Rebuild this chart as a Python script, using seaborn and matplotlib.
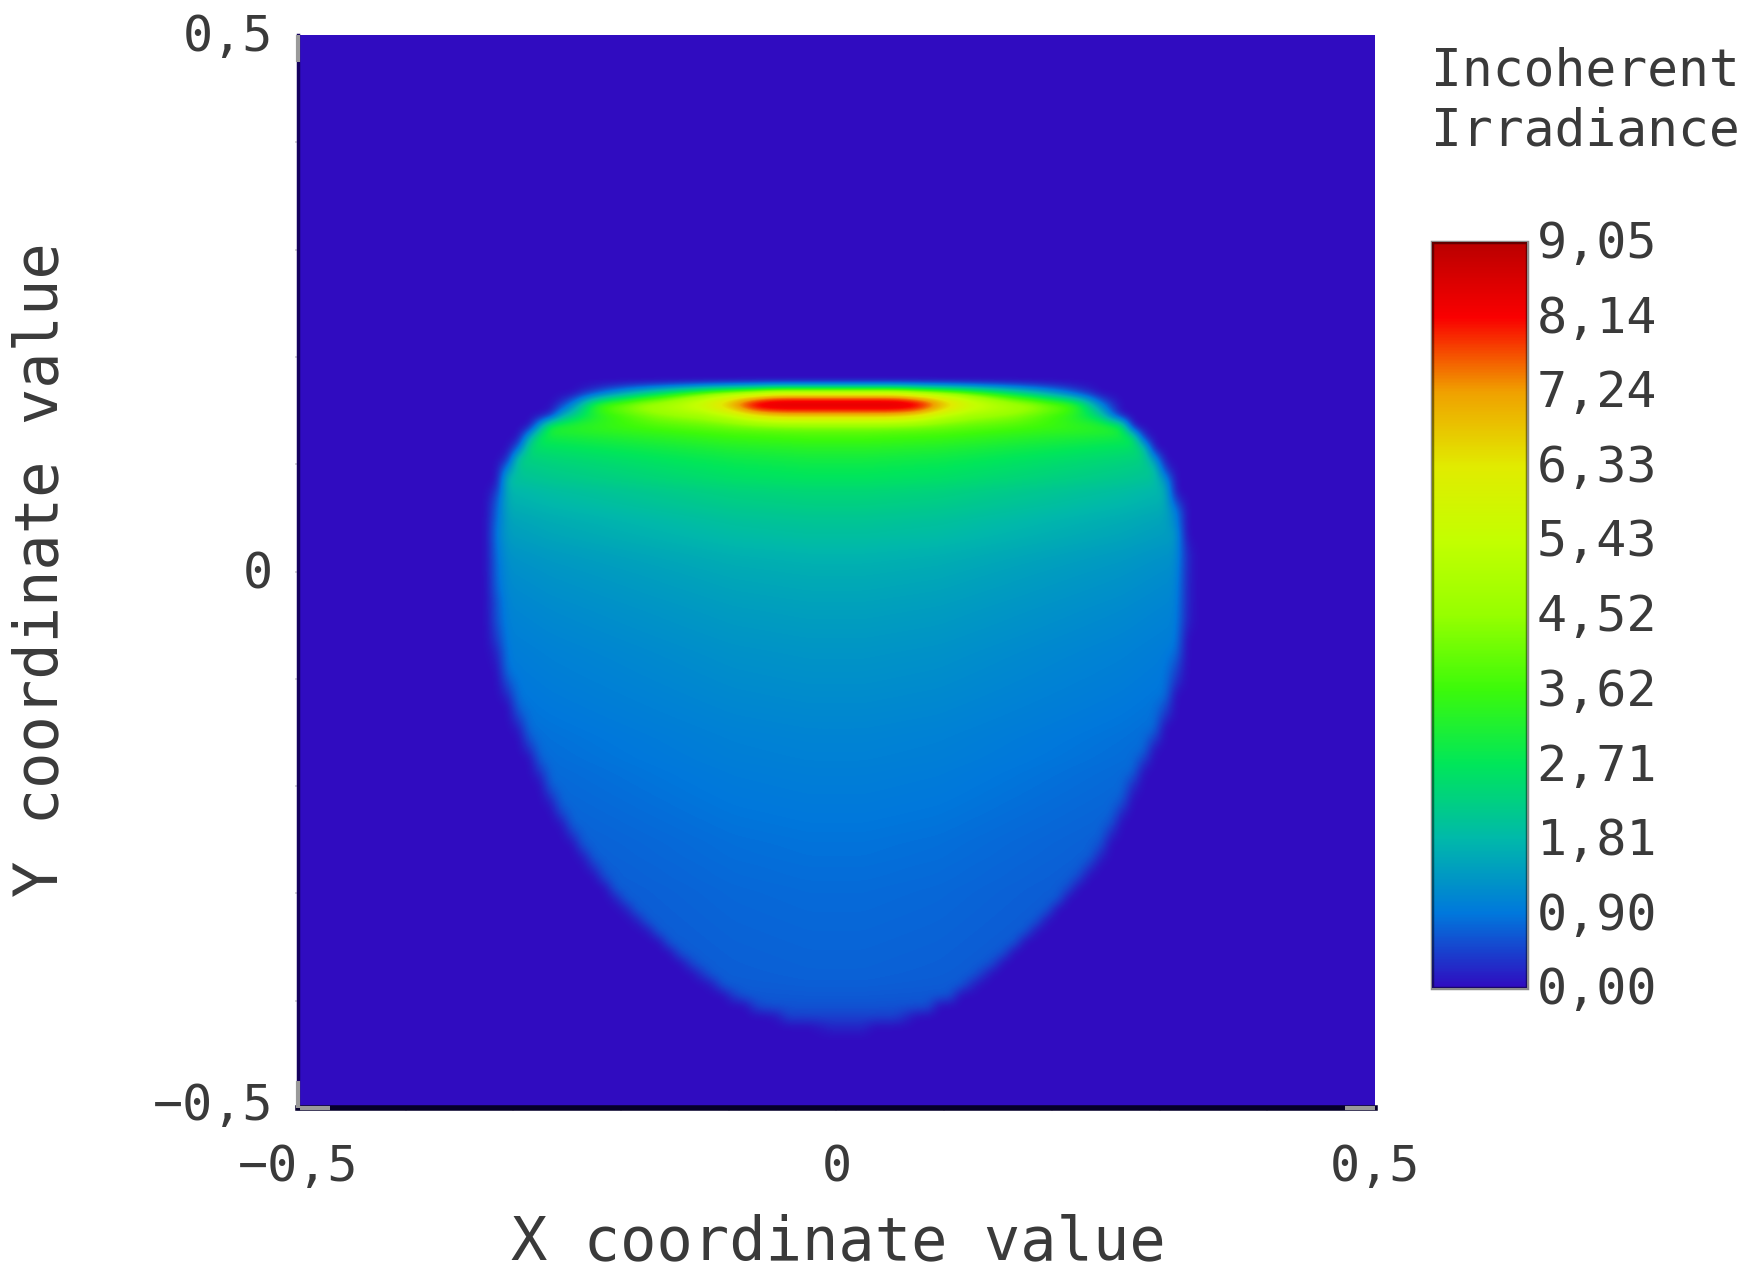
import numpy as np
import pandas as pd
import matplotlib
matplotlib.use('Agg')
import matplotlib.pyplot as plt
import seaborn as sns
from matplotlib.colors import LinearSegmentedColormap
from matplotlib.transforms import ScaledTranslation

# Colour bar stops
bar_values = [0.0, 0.90, 1.81, 2.71, 3.62, 4.52, 5.43, 6.33, 7.24, 8.14, 9.05]
bar_labels = ['0,00', '0,90', '1,81', '2,71', '3,62', '4,52', '5,43', '6,33', '7,24', '8,14', '9,05']
bar_colors = ['#300cc0', '#0078dc', '#00b9aa', '#00e65a', '#3cfa0a', '#96ff00',
              '#c3ff00', '#e1eb00', '#f0a000', '#fa0000', '#b90000']

# Footprint, one entry per 0.01 row from y=0.165 down to y=-0.425
row_left = [-0.270, -0.270, -0.264, -0.275, -0.286, -0.293, -0.301, -0.306, -0.310, -0.312,
            -0.314, -0.315, -0.316, -0.317, -0.317, -0.317, -0.317, -0.317, -0.317, -0.316,
            -0.316, -0.316, -0.315, -0.314, -0.312, -0.311, -0.309, -0.306, -0.303, -0.299,
            -0.296, -0.292, -0.288, -0.284, -0.279, -0.275, -0.271, -0.267, -0.262, -0.257,
            -0.251, -0.245, -0.239, -0.232, -0.225, -0.218, -0.210, -0.202, -0.192, -0.182,
            -0.171, -0.160, -0.149, -0.137, -0.125, -0.112, -0.097, -0.078, -0.052, -0.015]
row_right = [0.270, 0.270, 0.256, 0.269, 0.281, 0.289, 0.296, 0.302, 0.307, 0.310,
             0.313, 0.317, 0.318, 0.320, 0.321, 0.322, 0.322, 0.322, 0.322, 0.322,
             0.322, 0.322, 0.321, 0.320, 0.319, 0.317, 0.315, 0.313, 0.310, 0.307,
             0.304, 0.300, 0.296, 0.291, 0.286, 0.281, 0.276, 0.272, 0.268, 0.263,
             0.258, 0.253, 0.248, 0.243, 0.235, 0.227, 0.218, 0.210, 0.200, 0.191,
             0.181, 0.170, 0.159, 0.148, 0.136, 0.124, 0.110, 0.090, 0.065, 0.030]
# Irradiance along the middle of each row (first three rows are in top_half, hot_half, shoulder_half)
row_centre = [0.0, 0.0, 0.0, 4.20, 3.70, 3.30, 3.00, 2.80, 2.65, 2.40,
              2.30, 2.15, 2.03, 1.95, 1.85, 1.75, 1.68, 1.62, 1.57, 1.52,
              1.47, 1.43, 1.39, 1.35, 1.31, 1.28, 1.25, 1.22, 1.19, 1.16,
              1.13, 1.10, 1.07, 1.05, 1.03, 1.00, 0.98, 0.96, 0.94, 0.92,
              0.90, 0.88, 0.86, 0.85, 0.83, 0.82, 0.80, 0.79, 0.78, 0.77,
              0.76, 0.75, 0.74, 0.73, 0.72, 0.70, 0.66, 0.60, 0.45, 0.20]
# Fall-off towards the sides, per 0.01 of distance from the middle
side_gain = [1.00, 1.00, 1.00, 0.995, 0.99, 0.985, 0.98, 0.975, 0.97, 0.965,
             0.955, 0.945, 0.935, 0.925, 0.915, 0.905, 0.895, 0.885, 0.875, 0.865,
             0.855, 0.845, 0.835, 0.825, 0.815, 0.805, 0.795, 0.78, 0.765, 0.75,
             0.735, 0.72, 0.71]
# Three top rows, half a row from the side (x=0.265) to the middle
top_half = [0.0, 0.0, 0.0, 0.3, 0.6, 1.0, 1.4, 1.8, 2.2, 2.6, 3.0, 3.4, 3.8, 4.2, 4.6,
            5.0, 5.3, 5.6, 5.9, 6.2, 6.6, 6.9, 7.0, 7.0, 7.0, 7.0, 7.0]
hot_half = [0.0, 0.4, 1.2, 2.3, 3.4, 4.0, 4.3, 4.5, 4.8, 5.0, 5.1, 5.3, 5.5, 5.8, 6.0,
            6.5, 7.0, 7.7, 8.4, 8.9, 9.05, 9.05, 9.05, 9.05, 9.05, 9.05, 9.05]
shoulder_half = [0.6, 1.6, 2.2, 2.7, 3.0, 3.3, 3.5, 3.7, 3.9, 4.1, 4.3, 4.4, 4.5, 4.6, 4.7,
                 4.9, 5.1, 5.4, 5.8, 6.2, 6.5, 6.7, 6.8, 6.8, 6.8, 6.8, 6.8]

axis_ticks = ['\u22120,5', '0', '0,5']

sns.set_style('white')
plt.rcParams['font.family'] = ['DejaVu Sans Mono']
text_col = '#3a3a3a'

# Build the image table, 100 x 100 cells over the -0.5..0.5 square
n = 100
step = 0.01
x_centres = np.arange(n) * step - 0.495
y_centres = 0.495 - np.arange(n) * step
grid = np.zeros((n, n))
first_row = 33
gain = np.array(side_gain + [0.71] * (50 - len(side_gain)))
gain = np.concatenate([gain[::-1], gain])
top_rows = {}
for k, half in enumerate([top_half, hot_half, shoulder_half]):
    top_rows[k] = np.zeros(n)
    top_rows[k][23:77] = half + half[::-1]
for i in range(len(row_left)):
    cover = np.clip((x_centres + step / 2 - row_left[i]) / step, 0, 1) * \
        np.clip((row_right[i] - x_centres + step / 2) / step, 0, 1)
    values = top_rows[i] if i in top_rows else row_centre[i] * gain
    grid[first_row + i] = values * cover

df = pd.DataFrame(grid, index=y_centres.round(3), columns=x_centres.round(3))
cmap = LinearSegmentedColormap.from_list(
    'irradiance', [(v / bar_values[-1], c) for v, c in zip(bar_values, bar_colors)], N=512)

W, H = 1749, 1274
fig = plt.figure(figsize=(W / 100, H / 100), dpi=100)
ax = fig.add_axes([298 / W, 1 - 1108 / H, (1375 - 298) / W, (1108 - 35) / H])
cax = fig.add_axes([1432 / W, 1 - 988 / H, (1527 - 1432) / W, (988 - 242) / H])

sns.heatmap(df, ax=ax, cbar_ax=cax, cmap=cmap, vmin=bar_values[0], vmax=bar_values[-1],
            xticklabels=False, yticklabels=False)
cbar = ax.collections[0].colorbar
# smooth display of the same table, the original is a blurred screenshot
ax.imshow(grid, cmap=cmap, vmin=bar_values[0], vmax=bar_values[-1], extent=(0, n, n, 0),
          interpolation='bicubic', aspect='auto', zorder=2)

ax.set_xticks([0, 50, 100], axis_ticks)
ax.set_yticks([100, 50, 0], axis_ticks)
ax.xaxis.remove_overlapping_locs = False
ax.yaxis.remove_overlapping_locs = False
ax.set_xticks(np.arange(10, 100, 10), minor=True)
ax.set_yticks(np.arange(10, 100, 10), minor=True)
ax.tick_params(axis='x', which='major', length=0, pad=25.5, labelsize=36, labelcolor=text_col, labelrotation=0)
ax.tick_params(axis='y', which='major', length=0, pad=18, labelsize=36, labelcolor=text_col, labelrotation=0)
ax.tick_params(axis='both', which='minor', length=5, width=1.2, color='#d0d0d0', direction='inout',
               bottom=True, left=True)

for tick, dy in zip(ax.yaxis.get_major_ticks(), [7, 2, 3]):
    tick.label1.set_transform(tick.label1.get_transform() + ScaledTranslation(0, dy / 100, fig.dpi_scale_trans))

for side in ['top', 'right']:
    ax.spines[side].set_visible(False)
ax.spines['bottom'].set_visible(True)
ax.spines['bottom'].set_linewidth(4)
ax.spines['bottom'].set_color('#06002a')
ax.spines['left'].set_visible(True)
ax.spines['left'].set_linewidth(2.5)
ax.spines['left'].set_color('#150060')
for s in ax.spines.values():
    s.set_zorder(3)

# pale end ticks lying along the axes
for xs, ys in [([0, 0], [0, 0.025]), ([0, 0], [0.975, 1]), ([0.002, 0.03], [0, 0]), ([0.972, 1], [0, 0])]:
    ax.plot(xs, ys, transform=ax.transAxes, color='#9a9a9a', lw=3, clip_on=False, zorder=4,
            solid_capstyle='butt', scalex=False, scaley=False)

ax.set_xlabel('X coordinate value', fontsize=43.5, color=text_col)
ax.xaxis.set_label_coords(0.502, -0.098)
ax.set_ylabel('Y coordinate value', fontsize=43.5, color=text_col)
ax.yaxis.set_label_coords(-0.2115, 0.5015)

cbar.set_ticks(bar_values, labels=bar_labels)
cax.tick_params(axis='y', length=0, pad=7, labelsize=36, labelcolor=text_col, right=True, left=False)
for tick in cax.yaxis.get_major_ticks():
    tick.label2.set_transform(tick.label2.get_transform() + ScaledTranslation(0, 3 / 100, fig.dpi_scale_trans))
cbar.outline.set_visible(True)
cbar.outline.set_edgecolor((0, 0, 0, 0.45))
cbar.outline.set_linewidth(2.5)

fig.text(1431 / W, 1 - 85 / H, 'Incoherent', fontsize=37, color=text_col, va='baseline')
fig.text(1431 / W, 1 - 145 / H, 'Irradiance', fontsize=37, color=text_col, va='baseline')

fig.savefig('out.png', dpi=100)
